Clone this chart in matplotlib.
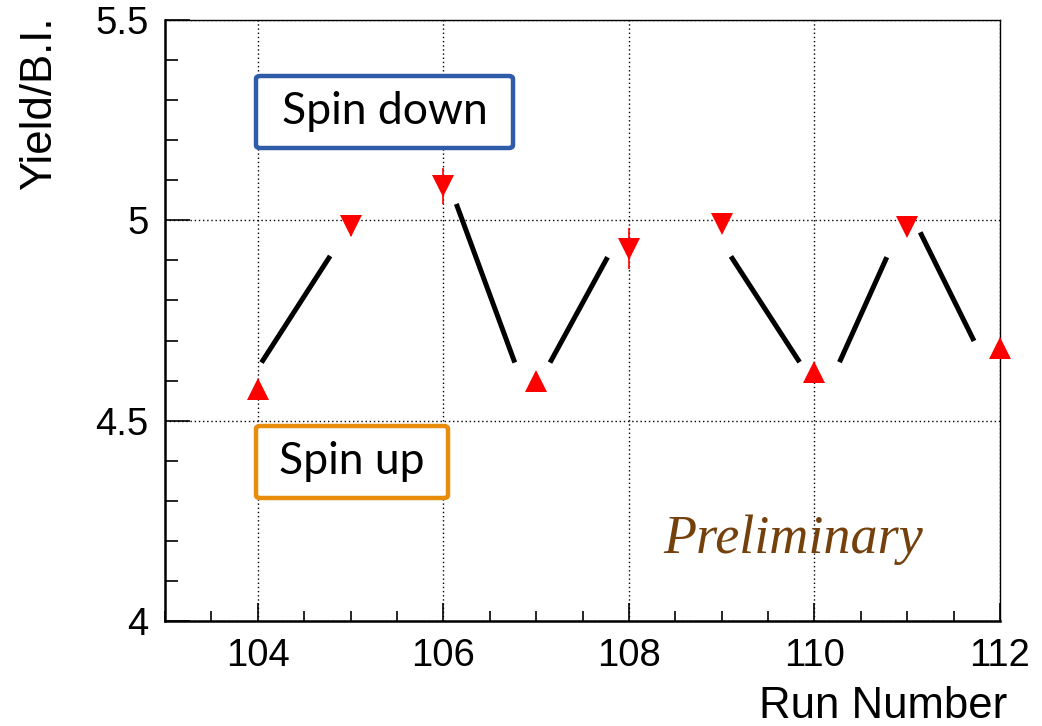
import matplotlib
matplotlib.use("Agg")
import matplotlib.pyplot as plt
from matplotlib.patches import FancyBboxPatch
from matplotlib.ticker import MultipleLocator

# Yield per beam intensity for each run
runs = [104, 105, 106, 107, 108, 109, 110, 111, 112]
yields = [4.578, 4.985, 5.086, 4.600, 4.929, 4.992, 4.621, 4.984, 4.682]
errors = [0.005, 0.025, 0.045, 0.006, 0.051, 0.006, 0.006, 0.006, 0.006]
spin = ["up", "down", "down", "up", "down", "down", "up", "down", "up"]

# Guide strokes between neighbouring runs (x0, y0, x1, y1)
guides = [
    (104.04, 4.645, 104.78, 4.911),
    (106.14, 5.041, 106.77, 4.645),
    (107.15, 4.645, 107.77, 4.908),
    (109.10, 4.910, 109.84, 4.646),
    (110.27, 4.646, 110.78, 4.908),
    (111.14, 4.970, 111.72, 4.699),
]

W, H = 1042, 726
fig = plt.figure(figsize=(W / 100, H / 100), dpi=100)
ax = fig.add_axes([165 / W, (H - 621) / H, (1000 - 165) / W, (621 - 20) / H])

ax.set_xlim(103, 112)
ax.set_ylim(4, 5.5)

# dotted grid at major ticks
ax.xaxis.set_major_locator(MultipleLocator(2))
ax.xaxis.set_minor_locator(MultipleLocator(0.5))
ax.yaxis.set_major_locator(MultipleLocator(0.5))
ax.yaxis.set_minor_locator(MultipleLocator(0.1))
ax.grid(True, which="major", color="black", linestyle=(0, (1, 2)), linewidth=1.0)
ax.set_axisbelow(True)

for x0, y0, x1, y1 in guides:
    ax.plot([x0, x1], [y0, y1], color="black", linewidth=3.6,
            solid_capstyle="butt", zorder=3)

for s, mk in (("up", "^"), ("down", "v")):
    xs = [r for r, sp in zip(runs, spin) if sp == s]
    ys = [y for y, sp in zip(yields, spin) if sp == s]
    es = [e for e, sp in zip(errors, spin) if sp == s]
    ax.errorbar(xs, ys, yerr=es, fmt=mk, color="red", ecolor="red",
                markersize=16.5, markeredgewidth=0, elinewidth=1.2,
                capsize=3, capthick=1.2, zorder=4, clip_on=False)

tick_font = "Liberation Sans"
ax.tick_params(which="both", direction="in", top=False, right=False,
               labelsize=27.5, pad=12)
ax.tick_params(axis="x", which="major", length=13, width=1.2)
ax.tick_params(axis="x", which="minor", length=7, width=1.2)
ax.tick_params(axis="y", which="major", length=18, width=1.2)
ax.tick_params(axis="y", which="minor", length=9, width=1.2)
for lab in ax.get_xticklabels() + ax.get_yticklabels():
    lab.set_fontfamily(tick_font)
ax.yaxis.set_major_formatter(plt.FuncFormatter(lambda v, p: f"{v:g}"))

for side in ("left", "bottom"):
    ax.spines[side].set_linewidth(1.8)
for side in ("top", "right"):
    ax.spines[side].set_linewidth(1.0)

fig.text(1007 / W, 8 / H, "Run Number", ha="right", va="baseline",
         fontsize=31.5, family=tick_font)
fig.text(40 / W, 1 - 16 / H, "Yield/B.I.", ha="center", va="top",
         rotation=90, fontsize=31.5, family=tick_font)

# labelled boxes for the two spin states
def label_box(x0, y0, x1, y1, text, edge):
    box = FancyBboxPatch((x0 / W, 1 - y1 / H), (x1 - x0) / W, (y1 - y0) / H,
                         boxstyle="round,pad=0,rounding_size=0.004",
                         transform=fig.transFigure, facecolor="white",
                         edgecolor=edge, linewidth=3.2, zorder=5)
    fig.add_artist(box)
    fig.text((x0 + x1) / 2 / W, 1 - (y0 + y1) / 2 / H, text, ha="center",
             va="center", fontsize=32, family="Lato", zorder=6)

label_box(256, 76, 513, 148, "Spin down", "#2e5ca8")
label_box(256, 426, 448, 498, "Spin up", "#e88c0c")

fig.text(663 / W, 1 - 553 / H, "Preliminary", ha="left", va="baseline",
         fontsize=39, family="Liberation Serif", style="italic",
         color="#74400c")

fig.savefig("out.png", dpi=100)
